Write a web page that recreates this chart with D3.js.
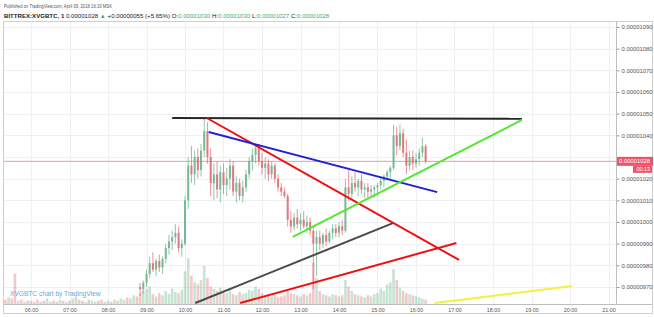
<!DOCTYPE html>
<html>
<head>
<meta charset="utf-8">
<script src="https://cdn.jsdelivr.net/npm/d3@7"></script>
<style>
  body { margin: 0; background: #fff; }
  svg { display: block; font-family: "Liberation Sans", Arial, sans-serif; }
</style>
</head>
<body>
<svg></svg>
<script>
// prices are in satoshi (1e-8 BTC), 1028 -> 0.00001028
let day = '2018-04-09'
let candleStart = '08:50'
let volumeStart = '05:20'
let barMinutes = 5

let opens = [970,969,972,976,981,978,982,979,983,988,991,993,995,988,990,1010,1026,1022,1030,1024,
  1033,1042,1030,1018,1022,1015,1023,1017,1020,1026,1014,1018,1012,1016,1022,1028,1031,1034,1028,1025,
  1027,1022,1026,1020,1016,1014,1012,1001,998,1002,999,1001,998,1000,996,990,993,990,994,991,
  995,997,995,998,996,1016,1013,1018,1016,1019,1015,1016,1014,1015,1016,1017,1019,1021,1023,1025,
  1040,1035,1041,1032,1026,1030,1027,1029,1032,1035]
let highs = [972,973,978,984,986,983,985,984,990,994,996,999,998,992,1012,1030,1035,1033,1034,1036,
  1048,1046,1034,1027,1028,1026,1027,1025,1029,1028,1021,1020,1019,1024,1030,1034,1036,1036,1032,1030,
  1029,1028,1027,1022,1018,1016,1013,1005,1004,1006,1004,1005,1003,1002,998,996,996,995,997,996,
  999,999,1000,1001,1020,1024,1021,1023,1020,1022,1018,1018,1017,1017,1018,1021,1022,1024,1026,1045,
  1044,1045,1043,1038,1033,1033,1032,1034,1039,1036]
let lows = [966,967,970,974,977,975,977,976,981,985,987,990,986,984,989,1006,1018,1017,1020,1021,
  1030,1027,1012,1010,1011,1009,1013,1012,1015,1012,1009,1010,1009,1014,1020,1024,1027,1026,1022,1020,
  1019,1020,1018,1014,1012,1011,998,995,996,997,996,997,995,994,969,975,987,988,989,990,
  992,993,993,994,995,1010,1011,1014,1012,1013,1011,1011,1012,1011,1012,1015,1016,1019,1020,1024,
  1031,1033,1030,1022,1024,1024,1025,1026,1030,1027]
let closes = [969,972,976,981,978,982,979,983,988,991,993,995,988,990,1010,1026,1022,1030,1024,1033,
  1042,1030,1018,1022,1015,1023,1017,1020,1026,1014,1018,1012,1016,1022,1028,1031,1034,1028,1025,1027,
  1022,1026,1020,1016,1014,1012,1001,998,1002,999,1001,998,1000,996,990,993,990,994,991,995,
  997,995,998,996,1016,1013,1018,1016,1019,1015,1016,1014,1015,1016,1017,1019,1021,1023,1025,1040,
  1035,1041,1032,1026,1030,1027,1029,1032,1035,1028]

// volume bars from 05:20, every 5 minutes
let volumes = [4,6,5,28,3,4,2,3,
  3,2,4,2,3,5,2,3,2,4,3,2,
  3,5,7,4,3,2,4,3,2,3,4,2,
  3,2,4,3,5,4,6,5,8,7,10,12,
  14,16,9,7,10,8,12,9,14,11,10,13,
  30,42,26,20,18,22,35,24,16,14,12,15,
  12,10,14,9,8,11,9,10,13,12,16,14,
  10,8,9,7,8,6,7,8,12,10,9,8,
  7,9,8,10,38,24,12,9,8,7,9,8,
  7,8,22,16,12,9,8,7,6,8,7,9,
  10,14,12,18,20,32,22,15,12,10,9,8,
  7,6,5,4]
// direction of the volume bars before the first visible candle
let earlyVolumeUp = [0,1,0,0,1,0,1,0, 1,0,0,1,0,1,1,0,0,1,0,1, 0,1,1,0,0,1,0,1,1,0,0,1, 1,0,1,0,1,1,0,1,1,0]

let priceTicks = [970,980,990,1000,1010,1020,1030,1040,1050,1060,1070,1080,1090]
let timeTicks = ['06:00','07:00','08:00','09:00','10:00','11:00','12:00','13:00','14:00','15:00','16:00','17:00','18:00','19:00','20:00','21:00']

let lastPrice = 1028
let countdown = '00:13'

// drawn trend lines: [time, price] -> [time, price]
let lineStarts = [['09:40',1048],['10:34',1048],['10:37',1041.5],['12:48',993.1],['10:16',962.6],['11:26',962.6],['16:29',962.6]]
let lineEnds = [['18:45',1047.6],['17:07',982.5],['16:33',1013.8],['18:45',1047.1],['15:24',999.5],['17:03',990.3],['20:03',970.5]]
let lineColors = ['#262626','#f01010','#2020d8','#55e635','#4a4a4a','#f01010','#f5f03a']

let w = 654
let h = 317
let plotLeft = 4
let plotRight = 616
let plotTop = 22
let plotBottom = 304

let parse = d3.timeParse('%Y-%m-%d %H:%M')
let at = (s) => parse(day + ' ' + s)
let addMin = (d, m) => new Date(d.getTime() + m * 60000)

let svg = d3.select('svg').attr('width', w).attr('height', h)

let xScale = d3.scaleTime()
  .domain([at('06:00'), at('21:00')])
  .range([31, 608.5])
let yScale = d3.scaleLinear()
  .domain([970, 1090])
  .range([287, 27])
let volScale = d3.scaleLinear()
  .domain([0, 45])
  .range([0, 49])

let upColor = '#5fae84'
let downColor = '#e0606a'

// frame
svg.append('rect')
  .attr('x', 3.5).attr('y', plotTop - 0.5)
  .attr('width', 649).attr('height', 292)
  .attr('fill', '#fff').attr('stroke', '#cfcfcf')

// grid
svg.append('g').selectAll('line')
  .data(timeTicks)
  .enter().append('line')
  .attr('x1', d => Math.round(xScale(at(d))) + 0.5)
  .attr('x2', d => Math.round(xScale(at(d))) + 0.5)
  .attr('y1', plotTop).attr('y2', plotBottom)
  .attr('stroke', '#edf0f4')
svg.append('g').selectAll('line')
  .data(priceTicks)
  .enter().append('line')
  .attr('x1', plotLeft).attr('x2', plotRight)
  .attr('y1', d => Math.round(yScale(d)) + 0.5)
  .attr('y2', d => Math.round(yScale(d)) + 0.5)
  .attr('stroke', '#edf0f4')

svg.append('defs').append('clipPath').attr('id', 'plot')
  .append('rect').attr('x', plotLeft).attr('y', plotTop)
  .attr('width', plotRight - plotLeft).attr('height', plotBottom - plotTop)

let plot = svg.append('g').attr('clip-path', 'url(#plot)')

// volume
let t0 = at(volumeStart)
let firstCandle = at(candleStart)
let volUp = (i) => {
  let t = addMin(t0, i * barMinutes)
  if (t < firstCandle) return earlyVolumeUp[i]
  let k = Math.round((t - firstCandle) / 60000 / barMinutes)
  return closes[k] >= opens[k] ? 1 : 0
}
plot.append('g').selectAll('rect')
  .data(volumes)
  .enter().append('rect')
  .attr('x', (d, i) => xScale(addMin(t0, i * barMinutes)) - 1.3)
  .attr('width', 2.6)
  .attr('y', d => plotBottom - volScale(d))
  .attr('height', d => volScale(d))
  .attr('fill', (d, i) => volUp(i) ? upColor : downColor)
  .attr('opacity', 0.35)

// watermark
svg.append('text')
  .attr('x', 10).attr('y', 296)
  .attr('font-size', 6.6)
  .attr('fill', '#62a9e3')
  .text('XVGBTC chart by TradingView')

// last price line
plot.append('line')
  .attr('x1', plotLeft).attr('x2', plotRight)
  .attr('y1', yScale(lastPrice)).attr('y2', yScale(lastPrice))
  .attr('stroke', '#f19aa2').attr('stroke-width', 1)

// candles
let candles = plot.append('g').selectAll('g')
  .data(opens)
  .enter().append('g')
  .attr('fill', (d, i) => closes[i] >= opens[i] ? upColor : downColor)
  .attr('stroke', (d, i) => closes[i] >= opens[i] ? upColor : downColor)
  .attr('opacity', 0.85)
candles.append('line')
  .attr('x1', (d, i) => xScale(addMin(firstCandle, i * barMinutes)))
  .attr('x2', (d, i) => xScale(addMin(firstCandle, i * barMinutes)))
  .attr('y1', (d, i) => yScale(highs[i]))
  .attr('y2', (d, i) => yScale(lows[i]))
  .attr('stroke-width', 0.8)
candles.append('rect')
  .attr('x', (d, i) => xScale(addMin(firstCandle, i * barMinutes)) - 1)
  .attr('width', 2)
  .attr('y', (d, i) => yScale(Math.max(opens[i], closes[i])))
  .attr('height', (d, i) => Math.max(0.8, Math.abs(yScale(opens[i]) - yScale(closes[i]))))
  .attr('stroke', 'none')

// trend lines
plot.append('g').selectAll('line')
  .data(lineStarts)
  .enter().append('line')
  .attr('x1', d => xScale(at(d[0])))
  .attr('y1', d => yScale(d[1]))
  .attr('x2', (d, i) => xScale(at(lineEnds[i][0])))
  .attr('y2', (d, i) => yScale(lineEnds[i][1]))
  .attr('stroke', (d, i) => lineColors[i])
  .attr('stroke-width', 2)

// axes - the label under the last price box is hidden
let yAxis = d3.axisRight(yScale)
  .tickValues(priceTicks.filter(d => Math.abs(yScale(d) - yScale(lastPrice)) > 9))
  .tickSize(3)
  .tickPadding(2)
  .tickFormat(d => (d * 1e-8).toFixed(8))
let gy = svg.append('g')
  .attr('transform', 'translate(' + (plotRight + 0.5) + ',0)')
  .call(yAxis)
gy.select('.domain').remove()
gy.selectAll('line').attr('stroke', '#9a9a9a')
gy.selectAll('text').attr('font-size', 5.9).attr('fill', '#555').attr('font-family', '"Liberation Sans", Arial, sans-serif')

let xAxis = d3.axisBottom(xScale)
  .tickValues(timeTicks.map(at))
  .tickSize(0)
  .tickPadding(4)
  .tickFormat(d3.timeFormat('%H:%M'))
let gx = svg.append('g')
  .attr('transform', 'translate(0,' + plotBottom + ')')
  .call(xAxis)
gx.select('.domain').remove()
gx.selectAll('text').attr('font-size', 5.4).attr('fill', '#555').attr('font-family', '"Liberation Sans", Arial, sans-serif')

svg.append('line')
  .attr('x1', plotRight + 0.5).attr('x2', plotRight + 0.5)
  .attr('y1', plotTop - 0.5).attr('y2', plotBottom + 0.5)
  .attr('stroke', '#bdbdbd')
svg.append('line')
  .attr('x1', 3.5).attr('x2', 652.5)
  .attr('y1', plotBottom + 0.5).attr('y2', plotBottom + 0.5)
  .attr('stroke', '#bdbdbd')

// last price label
let ly = yScale(lastPrice)
svg.append('rect')
  .attr('x', plotRight + 1).attr('y', ly - 4.5)
  .attr('width', 36).attr('height', 9)
  .attr('fill', '#ec5568')
svg.append('text')
  .attr('x', plotRight + 3).attr('y', ly + 2)
  .attr('font-size', 5.9).attr('fill', '#fff')
  .text((lastPrice * 1e-8).toFixed(8))
svg.append('rect')
  .attr('x', 633).attr('y', ly + 4.5)
  .attr('width', 19).attr('height', 7)
  .attr('fill', '#ec5568')
svg.append('text')
  .attr('x', 650).attr('y', ly + 10)
  .attr('text-anchor', 'end')
  .attr('font-size', 5.4).attr('fill', '#fff')
  .text(countdown)

// header
svg.append('text')
  .attr('x', 4).attr('y', 8)
  .attr('font-size', 5).attr('fill', '#555')
  .attr('textLength', 108).attr('lengthAdjust', 'spacingAndGlyphs')
  .text('Published on TradingView.com, April 09, 2018 16:19 MSK')

let green = '#3fae5f'
let head = svg.append('text')
  .attr('x', 4).attr('y', 17.5)
  .attr('font-size', 6.1).attr('fill', '#222')
head.append('tspan').attr('font-weight', 'bold').text('BITTREX:XVGBTC, 1 ')
head.append('tspan').text('0.00001028 ')
head.append('tspan').attr('fill', green).text('\u25B2')
head.append('tspan').text(' +0.00000055 (+5.65%) O:')
head.append('tspan').attr('fill', green).text('0.00001030')
head.append('tspan').text(' H:')
head.append('tspan').attr('fill', green).text('0.00001030')
head.append('tspan').text(' L:')
head.append('tspan').attr('fill', green).text('0.00001027')
head.append('tspan').text(' C:')
head.append('tspan').attr('fill', green).text('0.00001028')
</script>
</body>
</html>
